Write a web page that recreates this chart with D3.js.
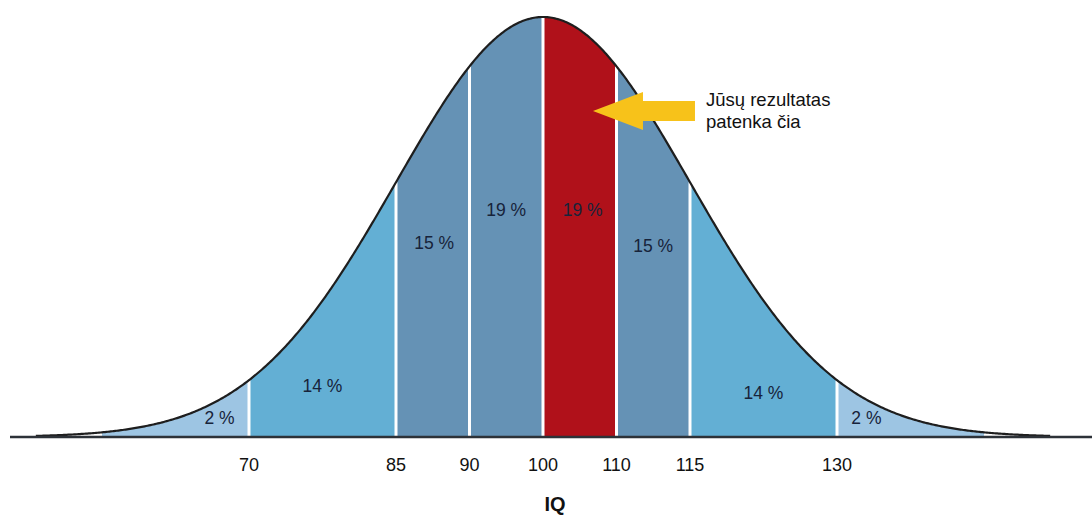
<!DOCTYPE html>
<html>
<head>
<meta charset="utf-8">
<script src="https://cdn.jsdelivr.net/npm/d3@7"></script>
<style>
  html, body { margin: 0; padding: 0; background: #fff; }
  svg { display: block; font-family: "Liberation Sans", Arial, sans-serif; }
</style>
</head>
<body>
<div id="chart"></div>
<script>
// Data
const iqTicks = [70, 85, 90, 100, 110, 115, 130];
// where each IQ label sits along the bell (in standard deviations, as drawn)
const tickZ = [-2, -1, -0.5, 0, 0.5, 1, 2];
const bandEdgesZ = [-3, -2, -1, -0.5, 0, 0.5, 1, 2, 3];
const bandShares = ["2 %", "14 %", "15 %", "19 %", "19 %", "15 %", "14 %", "2 %"];
const bandGroup = ["tail", "mid", "core", "core", "you", "core", "mid", "tail"];
const calloutLines = ["Jūsų rezultatas", "patenka čia"];
const axisTitle = "IQ";

// Layout
const width = 1092, height = 515;
const baseY = 437, peakY = 17;
const colors = { tail: "#9dc5e3", mid: "#63afd4", core: "#6592b5", you: "#b0111a" };
// label placement: [z, share of peak height]
const labelAt = [[-2.2, 0.045], [-1.5, 0.121], [-0.74, 0.462], [-0.25, 0.54],
                 [0.27, 0.54], [0.75, 0.455], [1.5, 0.105], [2.2, 0.045]];

const svg = d3.select("#chart").append("svg")
    .attr("width", width)
    .attr("height", height);

const x = d3.scaleLinear().domain([-1, 1]).range([396, 690]);
const y = d3.scaleLinear().domain([0, 1]).range([baseY, peakY]);
const bell = z => Math.exp(-z * z / 2);

// bands
bandShares.forEach((s, i) => {
    const zs = d3.range(bandEdgesZ[i], bandEdgesZ[i + 1], 0.01).concat([bandEdgesZ[i + 1]]);
    const area = d3.area()
        .x(z => x(z))
        .y0(y(0))
        .y1(z => y(bell(z)));
    svg.append("path")
        .attr("d", area(zs))
        .attr("fill", colors[bandGroup[i]]);
});

// white dividers
svg.selectAll("line.div")
    .data(bandEdgesZ.slice(1, -1))
    .enter()
    .append("line")
    .attr("class", "div")
    .attr("x1", z => x(z)).attr("x2", z => x(z))
    .attr("y1", y(0)).attr("y2", z => y(bell(z)))
    .attr("stroke", "#fff")
    .attr("stroke-width", 3);

// curve
const curveZ = d3.range(-3.45, 3.46, 0.01);
svg.append("path")
    .attr("d", d3.line().x(z => x(z)).y(z => y(bell(z)))(curveZ))
    .attr("fill", "none")
    .attr("stroke", "#1e1e1e")
    .attr("stroke-width", 2.2);

// baseline
svg.append("line")
    .attr("x1", 10).attr("x2", width)
    .attr("y1", baseY).attr("y2", baseY)
    .attr("stroke", "#2d3238")
    .attr("stroke-width", 2.5);

// percent labels
svg.selectAll("text.pct")
    .data(bandShares)
    .enter()
    .append("text")
    .attr("class", "pct")
    .attr("x", (d, i) => x(labelAt[i][0]))
    .attr("y", (d, i) => y(labelAt[i][1]))
    .attr("dy", "0.35em")
    .attr("text-anchor", "middle")
    .attr("font-size", 17.5)
    .attr("fill", "#17233a")
    .text(d => d);

// tick labels
svg.selectAll("text.tick")
    .data(iqTicks)
    .enter()
    .append("text")
    .attr("class", "tick")
    .attr("x", (d, i) => x(tickZ[i]))
    .attr("y", 465)
    .attr("dy", "0.35em")
    .attr("text-anchor", "middle")
    .attr("font-size", 18)
    .attr("fill", "#111")
    .text(d => d);

svg.append("text")
    .attr("x", x(0) + 12)
    .attr("y", 504)
    .attr("dy", "0.35em")
    .attr("text-anchor", "middle")
    .attr("font-size", 20)
    .attr("font-weight", "bold")
    .attr("fill", "#111")
    .text(axisTitle);

// callout arrow
const ax = x(0.34), ay = 111;
svg.append("path")
    .attr("d", `M${ax},${ay} L${ax + 50},${ay - 19} L${ax + 50},${ay - 10} L${ax + 102},${ay - 10}
                L${ax + 102},${ay + 10} L${ax + 50},${ay + 10} L${ax + 50},${ay + 19} Z`)
    .attr("fill", "#f7c21a");

svg.selectAll("text.callout")
    .data(calloutLines)
    .enter()
    .append("text")
    .attr("class", "callout")
    .attr("x", ax + 113)
    .attr("y", (d, i) => 106 + i * 22)
    .attr("font-size", 18.5)
    .attr("fill", "#111")
    .text(d => d);
</script>
</body>
</html>
